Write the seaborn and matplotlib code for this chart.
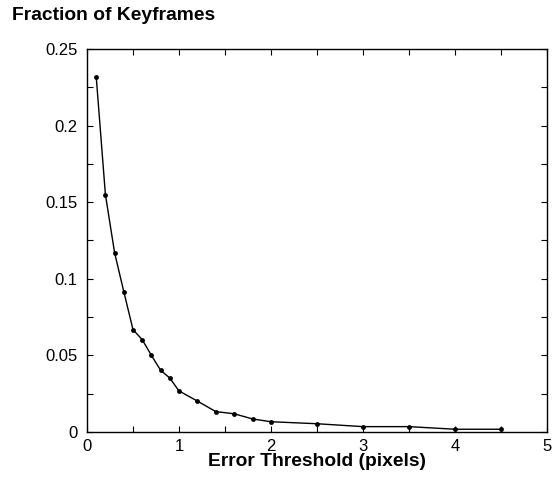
import seaborn as sns
import pandas as pd
import matplotlib.pyplot as plt
from matplotlib.ticker import MultipleLocator

# values
threshold = [0.1, 0.2, 0.3, 0.4, 0.5, 0.6, 0.7, 0.8, 0.9, 1.0,
             1.2, 1.4, 1.6, 1.8, 2.0, 2.5, 3.0, 3.5, 4.0, 4.5]
fraction = [0.232, 0.155, 0.117, 0.0916, 0.0668, 0.0603, 0.050, 0.0403, 0.0352, 0.0268,
            0.0202, 0.0133, 0.0119, 0.0085, 0.0067, 0.0054, 0.0035, 0.0035, 0.0018, 0.0018]

df = pd.DataFrame({'Threshold': threshold, 'Fraction': fraction})

sns.set_style("ticks")
plt.rcParams['font.family'] = ['Liberation Sans', 'DejaVu Sans']
plt.rcParams['text.color'] = 'black'
plt.rcParams['xtick.color'] = 'black'
plt.rcParams['ytick.color'] = 'black'
plt.rcParams['axes.labelcolor'] = 'black'

fig = plt.figure(figsize=(5.56, 4.8), dpi=100)
ax = fig.add_axes([87 / 556, 1 - 432 / 480, (547 - 87) / 556, (432 - 49) / 480])

sns.lineplot(data=df, x='Threshold', y='Fraction', ax=ax, color='black',
             linewidth=1.0, marker='o', markersize=3.5, markeredgewidth=0)

ax.set_xlim(0, 5)
ax.set_ylim(0, 0.25)
ax.xaxis.set_major_locator(MultipleLocator(1))
ax.xaxis.set_minor_locator(MultipleLocator(0.5))
ax.yaxis.set_major_locator(MultipleLocator(0.05))
ax.yaxis.set_minor_locator(MultipleLocator(0.025))
ax.xaxis.set_major_formatter(plt.FuncFormatter(lambda v, p: f"{v:g}"))
ax.yaxis.set_major_formatter(plt.FuncFormatter(lambda v, p: f"{v:g}"))
ax.tick_params(which='both', direction='in', top=True, right=True, labelsize=12,
               width=0.8, length=4, color='black', labelcolor='black')
ax.tick_params(axis='y', which='major', pad=7)
ax.tick_params(axis='x', which='major', pad=5)
for s in ax.spines.values():
    s.set_linewidth(1.0)
    s.set_color('black')

ax.set_xlabel("")
ax.set_ylabel("")
fig.text(317 / 556, 1 - 462 / 480, "Error Threshold (pixels)", fontsize=13.9,
         fontweight='bold', va='center', ha='center')
fig.text(12 / 556, 1 - 15 / 480, "Fraction of Keyframes", fontsize=13.9,
         fontweight='bold', va='center', ha='left')

plt.savefig("out.png", dpi=100)
